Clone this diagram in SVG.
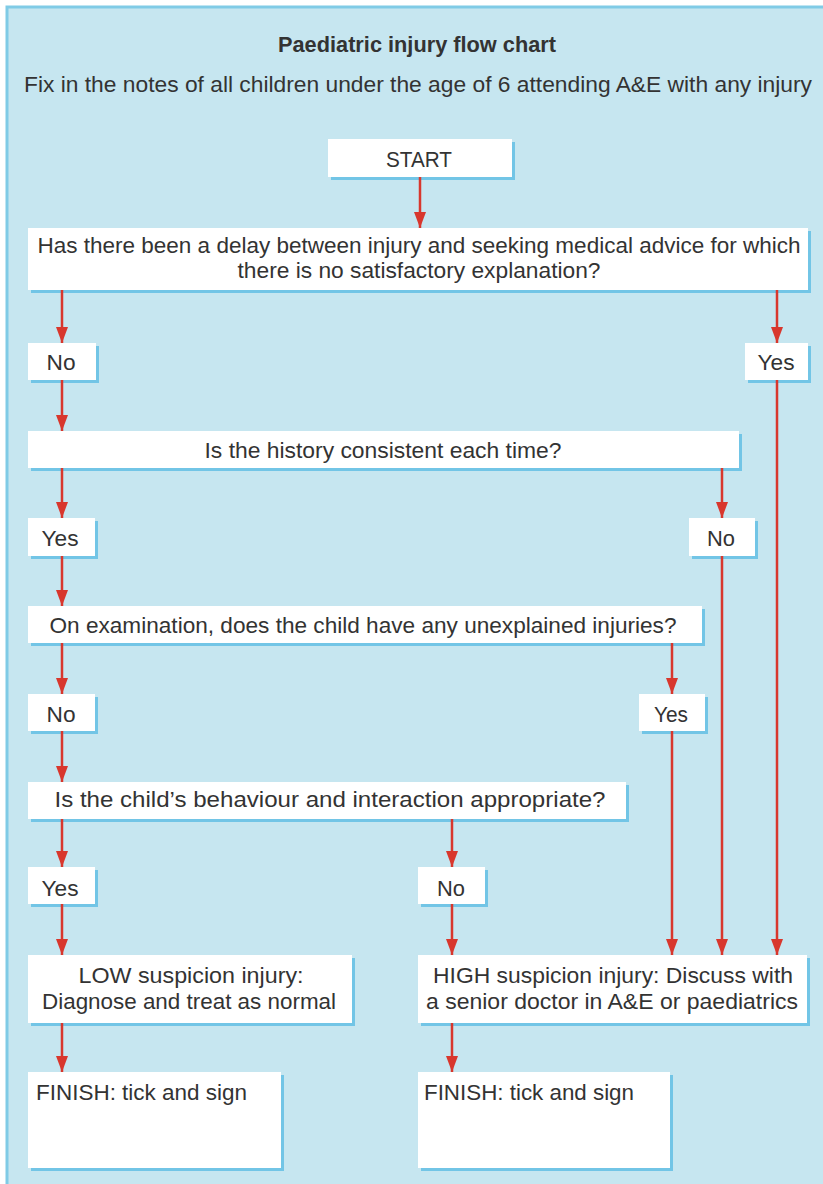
<svg xmlns="http://www.w3.org/2000/svg" width="823" height="1184" viewBox="0 0 823 1184">
<style>
text{font-family:"Liberation Sans Narrow","Liberation Sans",Arial,sans-serif;font-size:22px;fill:#333;}
.t{text-anchor:middle;}
.b{font-weight:bold;}
.sh{fill:#72c5e6;}
.bx{fill:#ffffff;}
.c line{stroke:#d8372d;stroke-width:2.5;marker-end:url(#ah);}
</style>
<defs>
<marker id="ah" markerUnits="userSpaceOnUse" markerWidth="16" markerHeight="12" refX="16" refY="6" orient="auto">
<path d="M0,0 L16,6 L0,12 z" fill="#d8372d"/>
</marker>
</defs>
<rect x="0" y="0" width="823" height="1184" fill="#ffffff"/>
<rect x="7" y="7" width="820" height="1180" fill="#c6e6f0" stroke="#80cbe6" stroke-width="3"/>
<g id="title">
<text class="t b" x="417" y="52" textLength="278" lengthAdjust="spacingAndGlyphs">Paediatric injury flow chart</text>
<text class="t" x="418" y="92" textLength="788" lengthAdjust="spacingAndGlyphs">Fix in the notes of all children under the age of 6 attending A&amp;E with any injury</text>
</g>
<g id="start">
<rect class="sh" x="331" y="142" width="184" height="38"/>
<rect class="bx" x="328" y="139" width="184" height="38"/>
<text class="t" x="419" y="167" textLength="66" lengthAdjust="spacingAndGlyphs">START</text>
</g>
<g id="q1">
<rect class="sh" x="31" y="231" width="780" height="62"/>
<rect class="bx" x="28" y="228" width="780" height="62"/>
<text class="t" x="419" y="253" textLength="763" lengthAdjust="spacingAndGlyphs">Has there been a delay between injury and seeking medical advice for which</text>
<text class="t" x="419" y="278" textLength="363" lengthAdjust="spacingAndGlyphs">there is no satisfactory explanation?</text>
</g>
<g id="no1">
<rect class="sh" x="31" y="346" width="68" height="37"/>
<rect class="bx" x="28" y="343" width="68" height="37"/>
<text class="t" x="61" y="370" textLength="29" lengthAdjust="spacingAndGlyphs">No</text>
</g>
<g id="yes1">
<rect class="sh" x="748" y="346" width="63" height="37"/>
<rect class="bx" x="745" y="343" width="63" height="37"/>
<text class="t" x="776" y="370" textLength="37" lengthAdjust="spacingAndGlyphs">Yes</text>
</g>
<g id="q2">
<rect class="sh" x="31" y="434" width="711" height="37"/>
<rect class="bx" x="28" y="431" width="711" height="37"/>
<text class="t" x="383" y="458" textLength="357" lengthAdjust="spacingAndGlyphs">Is the history consistent each time?</text>
</g>
<g id="yes2">
<rect class="sh" x="31" y="521" width="67" height="38"/>
<rect class="bx" x="28" y="518" width="67" height="38"/>
<text class="t" x="60" y="546" textLength="37" lengthAdjust="spacingAndGlyphs">Yes</text>
</g>
<g id="no2">
<rect class="sh" x="692" y="521" width="66" height="38"/>
<rect class="bx" x="689" y="518" width="66" height="38"/>
<text class="t" x="721" y="546" textLength="28" lengthAdjust="spacingAndGlyphs">No</text>
</g>
<g id="q3">
<rect class="sh" x="31" y="609" width="674" height="37"/>
<rect class="bx" x="28" y="606" width="674" height="37"/>
<text class="t" x="363" y="633" textLength="627" lengthAdjust="spacingAndGlyphs">On examination, does the child have any unexplained injuries?</text>
</g>
<g id="no3">
<rect class="sh" x="31" y="697" width="67" height="37"/>
<rect class="bx" x="28" y="694" width="67" height="37"/>
<text class="t" x="61" y="722" textLength="29" lengthAdjust="spacingAndGlyphs">No</text>
</g>
<g id="yes3">
<rect class="sh" x="642" y="697" width="66" height="37"/>
<rect class="bx" x="639" y="694" width="66" height="37"/>
<text class="t" x="671" y="722" textLength="34" lengthAdjust="spacingAndGlyphs">Yes</text>
</g>
<g id="q4">
<rect class="sh" x="31" y="785" width="598" height="37"/>
<rect class="bx" x="28" y="782" width="598" height="37"/>
<text class="t" x="330" y="807" textLength="551" lengthAdjust="spacingAndGlyphs">Is the child’s behaviour and interaction appropriate?</text>
</g>
<g id="yes4">
<rect class="sh" x="31" y="870" width="67" height="37"/>
<rect class="bx" x="28" y="867" width="67" height="37"/>
<text class="t" x="60" y="896" textLength="37" lengthAdjust="spacingAndGlyphs">Yes</text>
</g>
<g id="no4">
<rect class="sh" x="421" y="870" width="67" height="37"/>
<rect class="bx" x="418" y="867" width="67" height="37"/>
<text class="t" x="451" y="896" textLength="28" lengthAdjust="spacingAndGlyphs">No</text>
</g>
<g id="low">
<rect class="sh" x="31" y="958" width="324" height="68"/>
<rect class="bx" x="28" y="955" width="324" height="68"/>
<text class="t" x="191" y="983" textLength="225" lengthAdjust="spacingAndGlyphs">LOW suspicion injury:</text>
<text class="t" x="189" y="1009" textLength="294" lengthAdjust="spacingAndGlyphs">Diagnose and treat as normal</text>
</g>
<g id="high">
<rect class="sh" x="421" y="958" width="389" height="68"/>
<rect class="bx" x="418" y="955" width="389" height="68"/>
<text class="t" x="613" y="983" textLength="360" lengthAdjust="spacingAndGlyphs">HIGH suspicion injury: Discuss with</text>
<text class="t" x="612" y="1009" textLength="372" lengthAdjust="spacingAndGlyphs">a senior doctor in A&amp;E or paediatrics</text>
</g>
<g id="finish1">
<rect class="sh" x="31" y="1075" width="253" height="96"/>
<rect class="bx" x="28" y="1072" width="253" height="96"/>
<text x="36" y="1100" textLength="211" lengthAdjust="spacingAndGlyphs">FINISH: tick and sign</text>
</g>
<g id="finish2">
<rect class="sh" x="421" y="1075" width="252" height="96"/>
<rect class="bx" x="418" y="1072" width="252" height="96"/>
<text x="424" y="1100" textLength="210" lengthAdjust="spacingAndGlyphs">FINISH: tick and sign</text>
</g>
<g id="connectors" class="c">
<line x1="420" y1="177" x2="420" y2="228"/>
<line x1="62" y1="290" x2="62" y2="343"/>
<line x1="777" y1="290" x2="777" y2="343"/>
<line x1="62" y1="380" x2="62" y2="431"/>
<line x1="777" y1="380" x2="777" y2="955"/>
<line x1="62" y1="468" x2="62" y2="518"/>
<line x1="722" y1="468" x2="722" y2="518"/>
<line x1="722" y1="556" x2="722" y2="955"/>
<line x1="62" y1="556" x2="62" y2="606"/>
<line x1="62" y1="643" x2="62" y2="694"/>
<line x1="672" y1="643" x2="672" y2="694"/>
<line x1="672" y1="731" x2="672" y2="955"/>
<line x1="62" y1="731" x2="62" y2="782"/>
<line x1="62" y1="819" x2="62" y2="867"/>
<line x1="452" y1="819" x2="452" y2="867"/>
<line x1="62" y1="904" x2="62" y2="955"/>
<line x1="452" y1="904" x2="452" y2="955"/>
<line x1="62" y1="1023" x2="62" y2="1072"/>
<line x1="452" y1="1023" x2="452" y2="1072"/>
</g>
</svg>
